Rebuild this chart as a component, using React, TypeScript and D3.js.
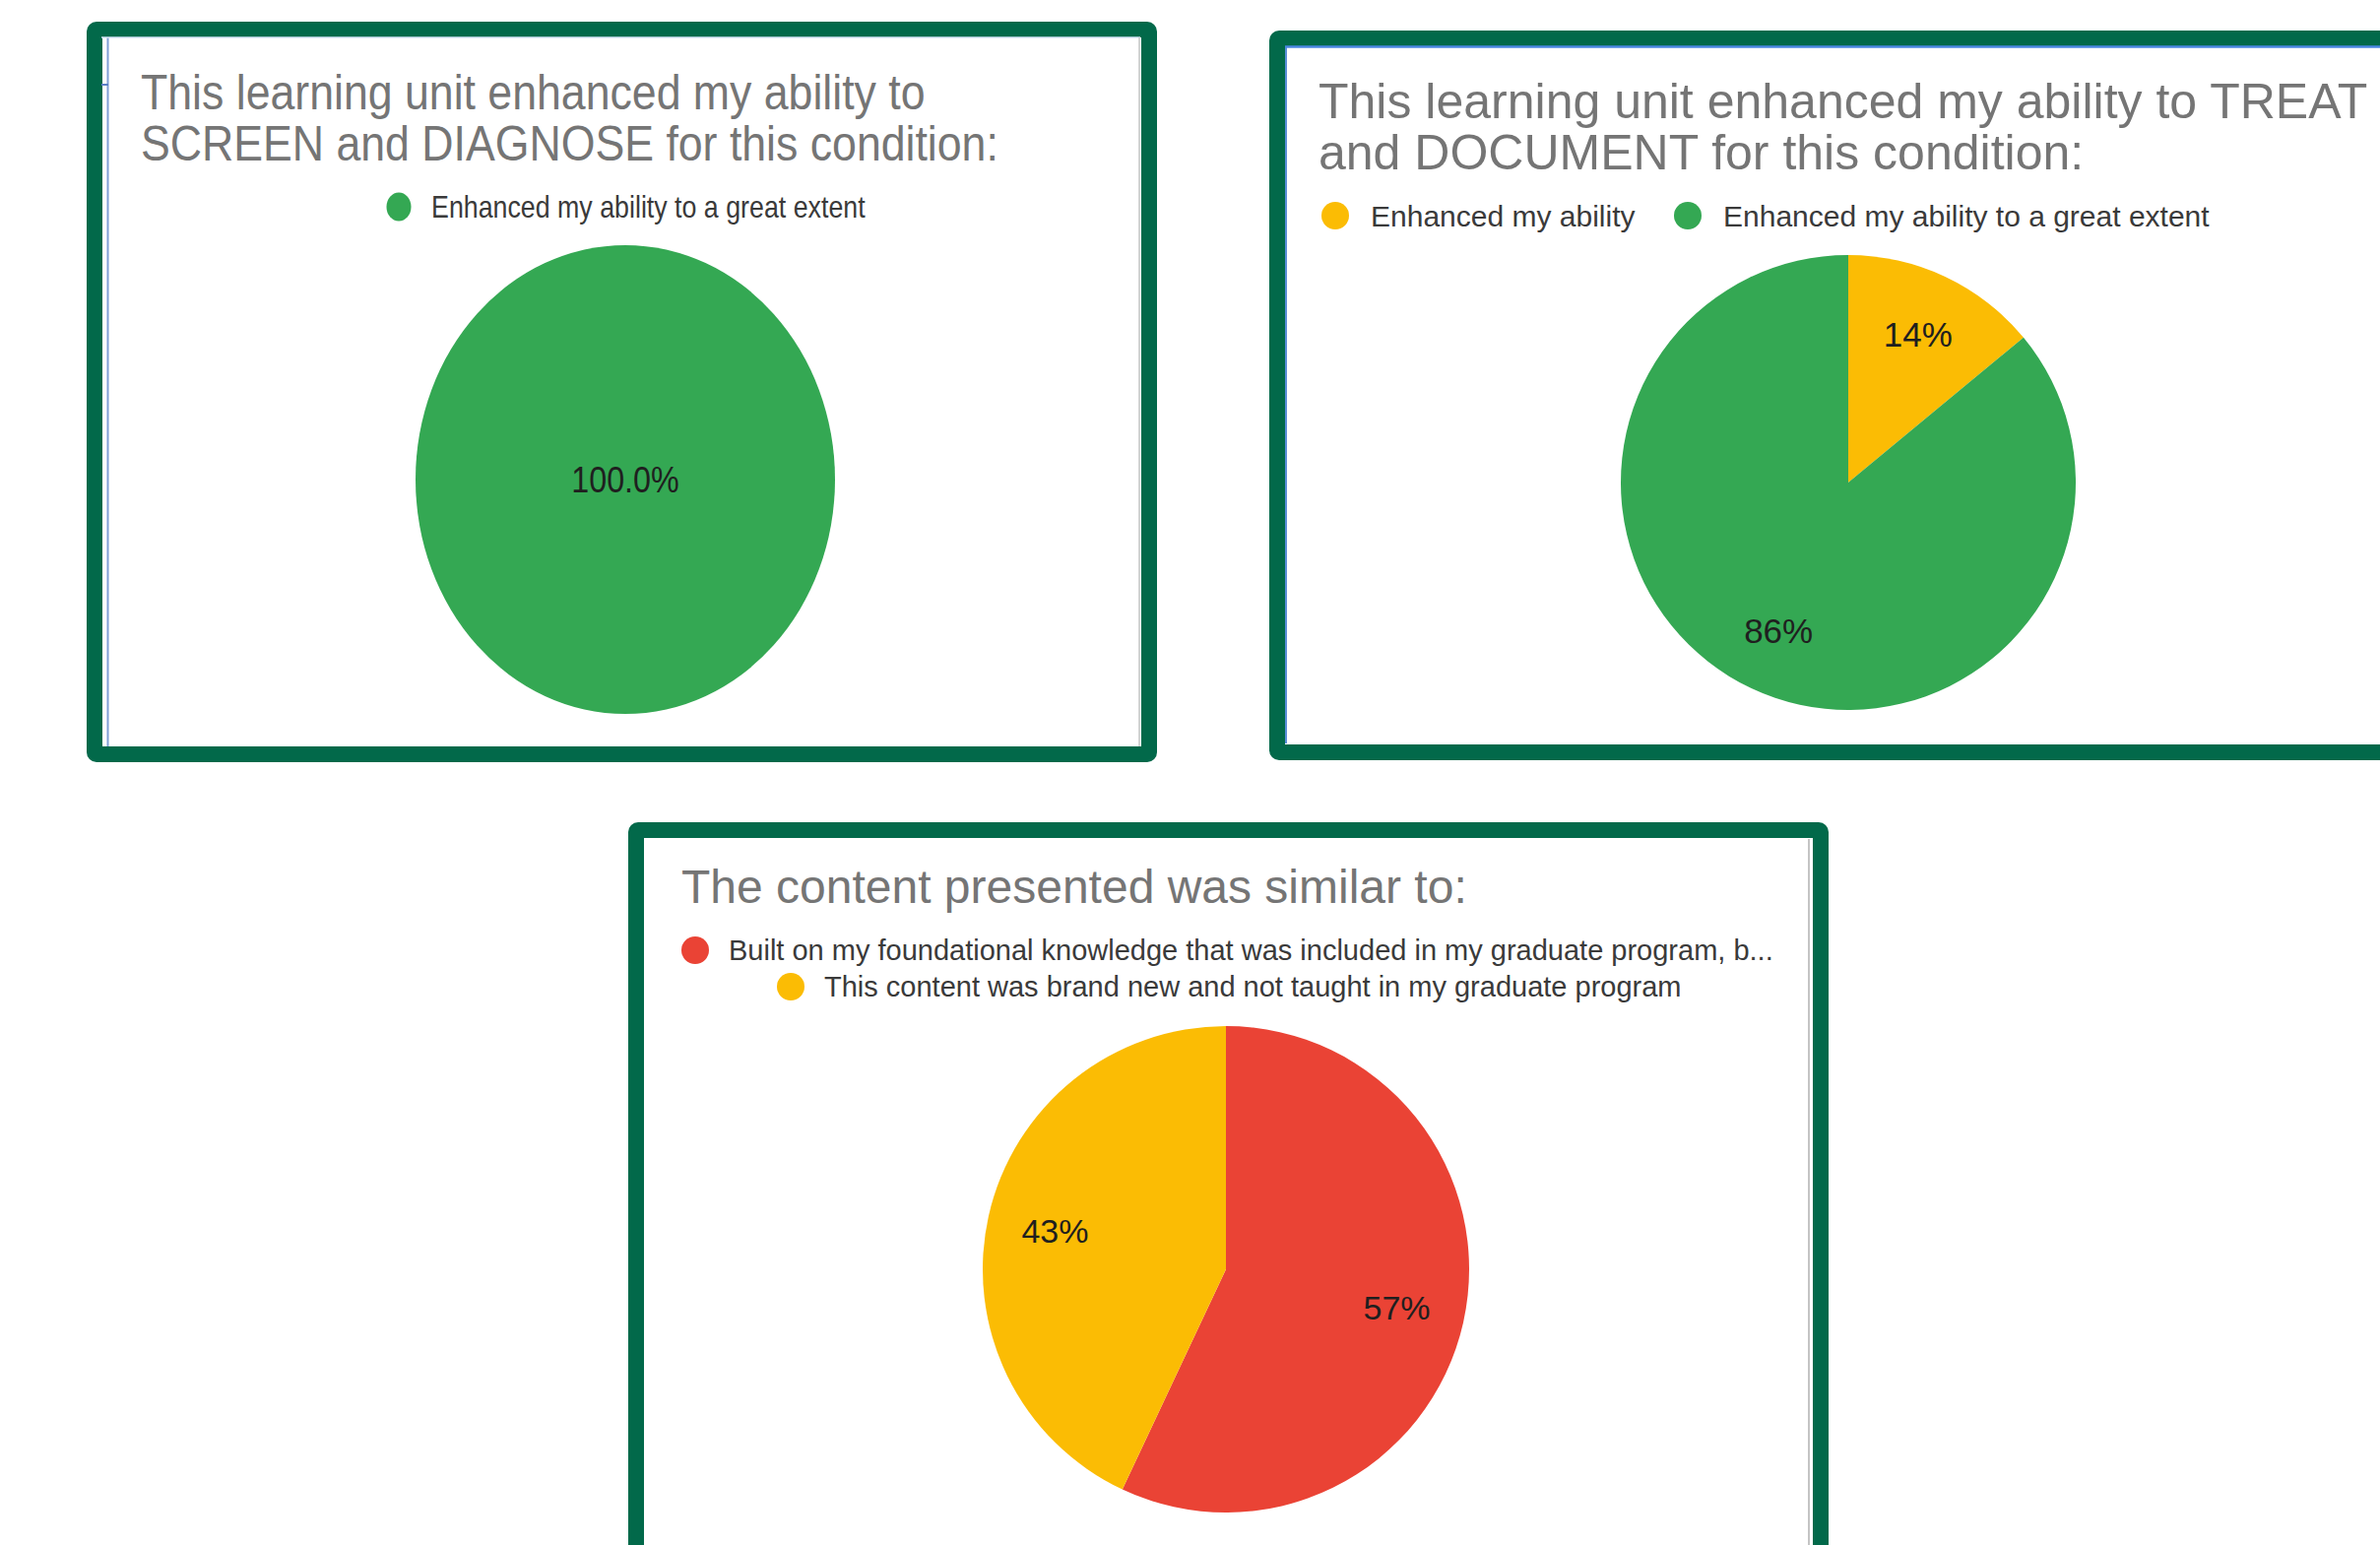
import React from "react";
import * as d3 from "d3";

// ---------- data ----------
const chart1Title = ["This learning unit enhanced my ability to", "SCREEN and DIAGNOSE for this condition:"];
const chart1Categories = ["Enhanced my ability to a great extent"];
const chart1Values = [100];
const chart1Colors = ["#34A853"];

const chart2Title = ["This learning unit enhanced my ability to TREAT", "and DOCUMENT for this condition:"];
const chart2Categories = ["Enhanced my ability", "Enhanced my ability to a great extent"];
const chart2Values = [14, 86];
const chart2Colors = ["#FBBC04", "#34A853"];

const chart3Title = ["The content presented was similar to:"];
const chart3Categories = [
  "Built on my foundational knowledge that was included in my graduate program, b...",
  "This content was brand new and not taught in my graduate program",
];
const chart3Values = [57, 43];
const chart3Colors = ["#EA4335", "#FBBC04"];

// ---------- styles ----------
const W = 2417;
const H = 1569;
const FRAME = "#02694A";
const FONT = "'Liberation Sans', Arial, sans-serif";
const TITLE_COLOR = "#757575";
const LEGEND_COLOR = "#3a3a3a";
const LABEL_COLOR = "#1f1f1f";

const fmtInt = (v: number) => d3.format(".0f")(v) + "%";
const fmtOne = (v: number) => d3.format(".1f")(v) + "%";

function Frame({ x, y, w, h, t = 16 }: { x: number; y: number; w: number; h: number; t?: number }) {
  return (
    <g>
      <rect x={x} y={y} width={w} height={h} rx={10} ry={10} fill={FRAME} />
      <rect x={x + t} y={y + t} width={w - 2 * t} height={h - 2 * t} fill="#ffffff" />
    </g>
  );
}

function Pie({
  cx,
  cy,
  r,
  values,
  colors,
  sx = 1,
  sy = 1,
  fontSize,
  format,
  labelRatio = 0.72,
  centerLabel = false,
}: {
  cx: number;
  cy: number;
  r: number;
  values: number[];
  colors: string[];
  sx?: number;
  sy?: number;
  fontSize: number;
  format: (v: number) => string;
  labelRatio?: number;
  centerLabel?: boolean;
}) {
  const pie = d3.pie<number>().sort(null).value((d) => d).startAngle(0).endAngle(2 * Math.PI);
  const arcs = pie(values);
  const arc = d3.arc<d3.PieArcDatum<number>>().innerRadius(0).outerRadius(r);
  const labelArc = d3
    .arc<d3.PieArcDatum<number>>()
    .innerRadius(r * labelRatio)
    .outerRadius(r * labelRatio);
  const total = d3.sum(values);
  return (
    <g transform={`translate(${cx},${cy})`}>
      <g transform={`scale(${sx},${sy})`}>
        {arcs.map((a, i) => (
          <path key={i} d={arc(a) || ""} fill={colors[i]} />
        ))}
      </g>
      {arcs.map((a, i) => {
        const [lx, ly] = centerLabel ? [0, 0] : labelArc.centroid(a);
        return (
          <text
            key={"l" + i}
            transform={`translate(${lx * sx},${ly * sy}) scale(${sx},${sy})`}
            textAnchor="middle"
            dy="0.36em"
            fontFamily={FONT}
            fontSize={fontSize}
            fill={LABEL_COLOR}
          >
            {format((a.data / total) * 100)}
          </text>
        );
      })}
    </g>
  );
}

function LegendItem({
  x,
  y,
  color,
  label,
  fontSize,
  sx = 1,
  sy = 1,
  r = 14,
  gap = 33,
}: {
  x: number;
  y: number;
  color: string;
  label: string;
  fontSize: number;
  sx?: number;
  sy?: number;
  r?: number;
  gap?: number;
}) {
  return (
    <g transform={`translate(${x},${y}) scale(${sx},${sy})`}>
      <circle cx={0} cy={0} r={r} fill={color} />
      <text x={gap} y={0} dy="0.36em" fontFamily={FONT} fontSize={fontSize} fill={LEGEND_COLOR}>
        {label}
      </text>
    </g>
  );
}

function Title({
  x,
  y,
  lines,
  fontSize,
  lineHeight,
  sx = 1,
  sy = 1,
}: {
  x: number;
  y: number;
  lines: string[];
  fontSize: number;
  lineHeight: number;
  sx?: number;
  sy?: number;
}) {
  return (
    <g>
      {lines.map((l, i) => (
        <text
          key={i}
          transform={`translate(${x},${y + i * lineHeight}) scale(${sx},${sy})`}
          fontFamily={FONT}
          fontSize={fontSize}
          fill={TITLE_COLOR}
        >
          {l}
        </text>
      ))}
    </g>
  );
}

export default function App() {
  const s1x = 0.893;
  const s1y = 1.04;
  return (
    <svg
      width={W}
      height={H}
      viewBox={`0 0 ${W} ${H}`}
      style={{ position: "absolute", left: 0, top: 0, display: "block", background: "#ffffff" }}
    >
      <rect x={0} y={0} width={W} height={H} fill="#ffffff" />

      {/* ---------- Panel 1 ---------- */}
      <Frame x={88} y={22} w={1087} h={752} />
      <line x1={109.5} y1={38} x2={109.5} y2={758} stroke="#7f9fd6" strokeWidth={2} />
      <line x1={103} y1={86} x2={110} y2={86} stroke="#5b7fc4" strokeWidth={2} />
      <line x1={103} y1={38} x2={1158} y2={38} stroke="#d6e3f6" strokeWidth={1.5} />
      <line x1={1157} y1={38} x2={1157} y2={758} stroke="#c8c8c8" strokeWidth={1.5} />
      <Title x={143} y={111} lines={chart1Title} fontSize={50} lineHeight={52} sx={s1x} sy={1} />
      <LegendItem
        x={405}
        y={210}
        color={chart1Colors[0]}
        label={chart1Categories[0]}
        fontSize={30}
        sx={s1x}
        sy={s1y}
        r={14}
        gap={37}
      />
      <Pie
        cx={635}
        cy={487}
        r={231}
        sx={213 / 231}
        sy={238 / 231}
        values={chart1Values}
        colors={chart1Colors}
        fontSize={35}
        format={fmtOne}
        centerLabel
      />

      {/* ---------- Panel 2 ---------- */}
      <Frame x={1289} y={31} w={1200} h={741} />
      <line x1={1306} y1={47} x2={1306} y2={755} stroke="#5b8fd9" strokeWidth={2} />
      <line x1={1305} y1={47.5} x2={2417} y2={47.5} stroke="#4a86e0" strokeWidth={2.5} />
      <Title x={1339} y={120} lines={chart2Title} fontSize={50} lineHeight={52} />
      <LegendItem x={1356} y={219} color={chart2Colors[0]} label={chart2Categories[0]} fontSize={30} r={14} gap={36} />
      <LegendItem x={1714} y={219} color={chart2Colors[1]} label={chart2Categories[1]} fontSize={30} r={14} gap={36} />
      <Pie cx={1877} cy={490} r={231} values={chart2Values} colors={chart2Colors} fontSize={35} format={fmtInt} />

      {/* ---------- Panel 3 ---------- */}
      <Frame x={638} y={835} w={1219} h={800} />
      <line x1={1837} y1={852} x2={1837} y2={1569} stroke="#c4c4c4" strokeWidth={2} />
      <Title x={692} y={917} lines={chart3Title} fontSize={48} lineHeight={50} />
      <LegendItem x={706} y={965} color={chart3Colors[0]} label={chart3Categories[0]} fontSize={29} r={14} gap={34} />
      <LegendItem x={803} y={1002} color={chart3Colors[1]} label={chart3Categories[1]} fontSize={29} r={14} gap={34} />
      <Pie cx={1245} cy={1289} r={247} values={chart3Values} colors={chart3Colors} fontSize={34} format={fmtInt} />
    </svg>
  );
}
